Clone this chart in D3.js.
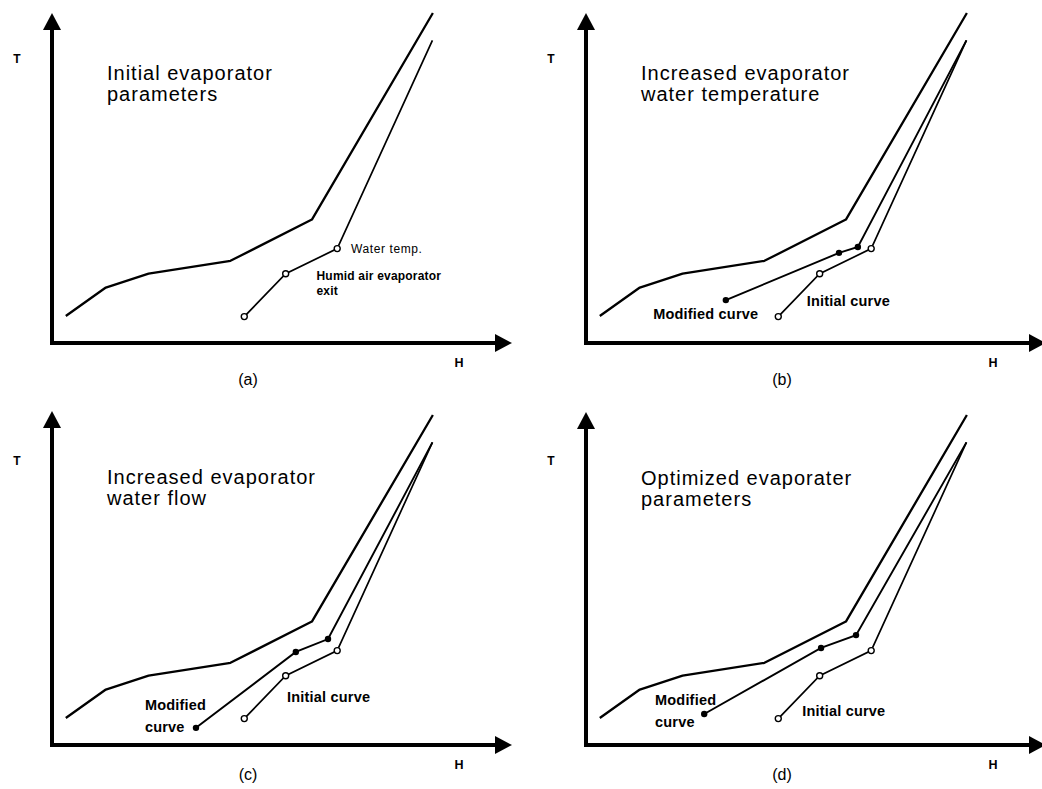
<!DOCTYPE html>
<html>
<head>
<meta charset="utf-8">
<script src="https://cdn.jsdelivr.net/npm/d3@7"></script>
<style>
  html, body { margin: 0; padding: 0; background: #ffffff; }
  svg { display: block; font-family: "Liberation Sans", Arial, Helvetica, sans-serif; }
</style>
</head>
<body>
<svg id="chart" width="1042" height="789"></svg>
<script>
// ---------- data (H, T in relative units 0-100) ----------
const hotH = [3.0, 11.7, 21.0, 38.8, 56.5, 82.8];
const hotT = [8.2, 16.8, 21.0, 24.9, 37.4, 100.0];

const initialH = [41.8, 50.8, 62.0, 82.7];
const initialT = [8.0, 21.0, 28.6, 91.7];

const modWaterTempH = [30.4, 55.0, 59.1, 82.7];
const modWaterTempT = [13.0, 27.3, 29.1, 91.7];

const modWaterFlowH = [31.3, 53.0, 60.0, 82.7];
const modWaterFlowT = [5.2, 28.2, 32.1, 91.7];

const modOptimizedH = [25.7, 51.1, 58.7, 82.7];
const modOptimizedT = [9.4, 29.4, 33.3, 91.7];

const panelTitles = [
  ["Initial evaporator", "parameters"],
  ["Increased evaporator", "water temperature"],
  ["Increased evaporator", "water flow"],
  ["Optimized evaporater", "parameters"]
];
const panelLetters = ["(a)", "(b)", "(c)", "(d)"];
const axisNames = ["T", "H"];

// ---------- layout ----------
const panels = [
  { ox: 52,  oy: 343, yTip: 13,  titleY: 80,  letterY: 385, mod: null },
  { ox: 586, oy: 343, yTip: 13,  titleY: 80,  letterY: 385, mod: [modWaterTempH, modWaterTempT] },
  { ox: 52,  oy: 745, yTip: 411, titleY: 484, letterY: 780, mod: [modWaterFlowH, modWaterFlowT] },
  { ox: 586, oy: 745, yTip: 412, titleY: 485, letterY: 780, mod: [modOptimizedH, modOptimizedT] }
];

// annotation placements (in data units) per panel
const annotations = [
  [ { text: "Water temp.", h: 65.0, t: 27.3, size: 12, weight: "normal", ls: 0.6 },
    { text: "Humid air evaporator", h: 57.5, t: 19.1, size: 12, weight: "bold", ls: 0.2 },
    { text: "exit", h: 57.5, t: 14.4, size: 12, weight: "bold", ls: 0.2 } ],
  [ { text: "Modified curve", h: 14.6, t: 7.3, size: 14.5, weight: "bold", ls: 0.2 },
    { text: "Initial curve", h: 48.0, t: 11.2, size: 14.5, weight: "bold", ls: 0.2 } ],
  [ { text: "Modified", h: 20.2, t: 10.6, size: 14.5, weight: "bold", ls: 0.2 },
    { text: "curve", h: 20.2, t: 3.9, size: 14.5, weight: "bold", ls: 0.2 },
    { text: "Initial curve", h: 51.1, t: 13.0, size: 14.5, weight: "bold", ls: 0.2 } ],
  [ { text: "Modified", h: 15.0, t: 12.1, size: 14.5, weight: "bold", ls: 0.2 },
    { text: "curve", h: 15.0, t: 5.5, size: 14.5, weight: "bold", ls: 0.2 },
    { text: "Initial curve", h: 47.0, t: 8.8, size: 14.5, weight: "bold", ls: 0.2 } ]
];

const svg = d3.select("#chart");
const zip = (hs, ts) => hs.map((h, i) => [h, ts[i]]);

panels.forEach((p, idx) => {
  const x = d3.scaleLinear().domain([0, 100]).range([p.ox, p.ox + 460]);
  const y = d3.scaleLinear().domain([0, 100]).range([p.oy, p.oy - 330]);
  const g = svg.append("g");
  const line = d3.line().x(d => x(d[0])).y(d => y(d[1]));

  const xTip = x(100);
  // axes
  g.append("line").attr("x1", p.ox).attr("x2", p.ox)
    .attr("y1", p.oy + 2).attr("y2", p.yTip + 14)
    .attr("stroke", "#000").attr("stroke-width", 4);
  g.append("line").attr("x1", p.ox - 2).attr("x2", xTip - 15)
    .attr("y1", p.oy).attr("y2", p.oy)
    .attr("stroke", "#000").attr("stroke-width", 4);
  g.append("path")
    .attr("d", `M${p.ox},${p.yTip} L${p.ox + 9},${p.yTip + 17} L${p.ox - 9},${p.yTip + 17} Z`)
    .attr("fill", "#000");
  g.append("path")
    .attr("d", `M${xTip},${p.oy} L${xTip - 17},${p.oy - 9} L${xTip - 17},${p.oy + 9} Z`)
    .attr("fill", "#000");

  // axis names
  g.append("text").attr("x", p.ox - 35).attr("y", p.oy - 280)
    .attr("text-anchor", "middle").attr("font-size", 12).attr("font-weight", "bold")
    .text(axisNames[0]);
  g.append("text").attr("x", p.ox + 407).attr("y", p.oy + 24)
    .attr("text-anchor", "middle").attr("font-size", 12.5).attr("font-weight", "bold")
    .text(axisNames[1]);
  // panel letter
  g.append("text").attr("x", p.ox + 196).attr("y", p.letterY)
    .attr("text-anchor", "middle").attr("font-size", 16)
    .text(panelLetters[idx]);

  // title
  panelTitles[idx].forEach((s, k) => {
    g.append("text").attr("x", p.ox + 55).attr("y", p.titleY + k * 21)
      .attr("font-size", 20).attr("letter-spacing", 1)
      .text(s);
  });

  // hot curve
  g.append("path").datum(zip(hotH, hotT)).attr("d", line)
    .attr("fill", "none").attr("stroke", "#000").attr("stroke-width", 2.3)
    .attr("stroke-linejoin", "round");

  // initial curve
  const init = zip(initialH, initialT);
  g.append("path").datum(init).attr("d", line)
    .attr("fill", "none").attr("stroke", "#000").attr("stroke-width", 1.7);

  // modified curve
  if (p.mod) {
    const mod = zip(p.mod[0], p.mod[1]);
    g.append("path").datum(mod).attr("d", line)
      .attr("fill", "none").attr("stroke", "#000").attr("stroke-width", 1.9);
    g.selectAll(".mdot").data(mod.slice(0, 3)).enter().append("circle")
      .attr("cx", d => x(d[0])).attr("cy", d => y(d[1])).attr("r", 3.2)
      .attr("fill", "#000");
  }
  g.selectAll(".idot").data(init.slice(0, 3)).enter().append("circle")
    .attr("cx", d => x(d[0])).attr("cy", d => y(d[1])).attr("r", 3)
    .attr("fill", "#fff").attr("stroke", "#000").attr("stroke-width", 1.4);

  // annotations
  annotations[idx].forEach(a => {
    g.append("text").attr("x", x(a.h)).attr("y", y(a.t))
      .attr("font-size", a.size).attr("font-weight", a.weight)
      .attr("letter-spacing", a.ls)
      .text(a.text);
  });
});
</script>
</body>
</html>
